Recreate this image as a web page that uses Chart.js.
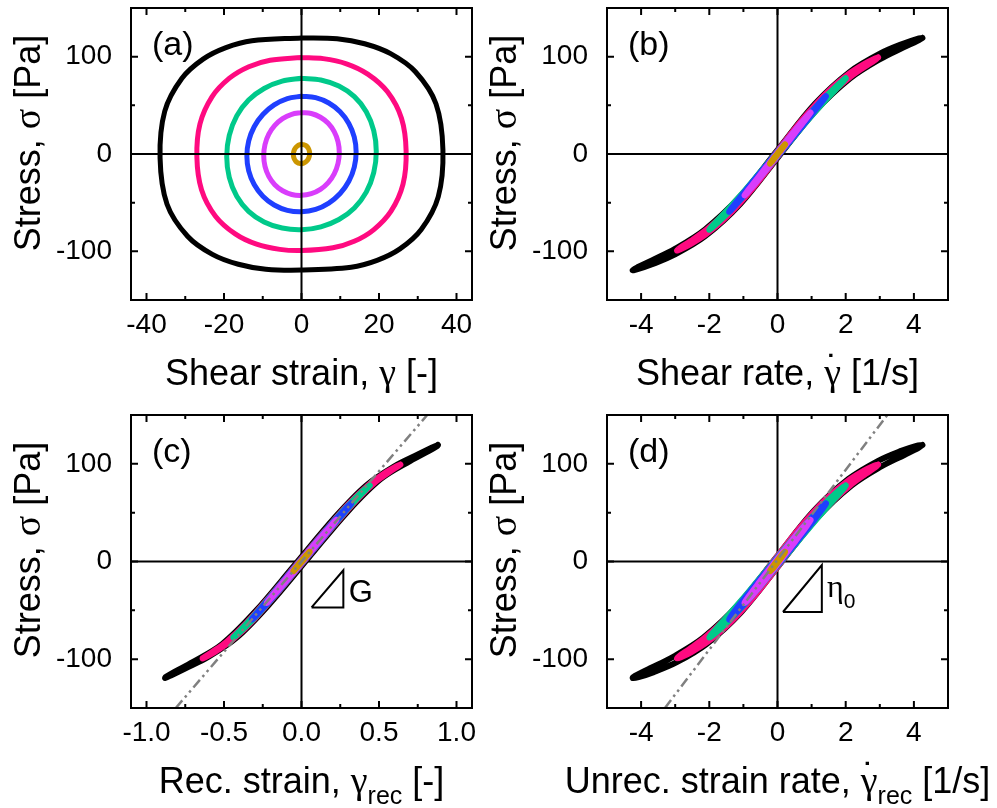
<!DOCTYPE html>
<html><head><meta charset="utf-8">
<script src="https://cdn.jsdelivr.net/npm/chart.js@4.4.0/dist/chart.umd.min.js"></script>
<style>
html,body{margin:0;padding:0;background:#fff;}
#wrap{position:relative;width:997px;height:808px;overflow:hidden;background:#fff;}
canvas{position:absolute;}
</style></head><body>
<div id="wrap">
<canvas id="pa" width="498" height="400" style="left:0;top:0"></canvas>
<canvas id="pb" width="521" height="400" style="left:476px;top:0"></canvas>
<canvas id="pc" width="498" height="408" style="left:0;top:400px"></canvas>
<canvas id="pd" width="521" height="408" style="left:476px;top:400px"></canvas>
</div>
<script>
// ---------- stress [Pa] around each loop (shared by all four panels) ----------
const stressBlack  = [119.3,118.4,113.3,103.1,84.5,51.6,4.0,-43.8,-77.6,-97.5,-109.3,-116.4,-119.3,-118.4,-113.3,-103.1,-84.5,-51.6,-4.0,43.8,77.6,97.5,109.3,116.4,119.3];
const stressPink   = [99.2,98.0,92.7,82.1,63.9,36.7,3.0,-30.9,-58.7,-77.9,-89.7,-96.4,-99.2,-98.0,-92.7,-82.1,-63.9,-36.7,-3.0,30.9,58.7,77.9,89.7,96.4,99.2];
const stressGreen  = [77.8,76.1,69.8,58.9,43.5,24.0,2.5,-19.2,-39.2,-55.4,-67.3,-74.8,-77.8,-76.1,-69.8,-58.9,-43.5,-24.0,-2.5,19.2,39.2,55.4,67.3,74.8,77.8];
const stressBlue   = [59.4,57.9,52.4,43.4,31.4,17.3,2.0,-13.4,-28.0,-40.6,-50.4,-56.9,-59.4,-57.9,-52.4,-43.4,-31.4,-17.3,-2.0,13.4,28.0,40.6,50.4,56.9,59.4];
const stressViolet = [42.5,41.6,37.8,31.6,23.0,12.7,1.5,-9.8,-20.4,-29.4,-36.4,-40.8,-42.5,-41.6,-37.8,-31.6,-23.0,-12.7,-1.5,9.8,20.4,29.4,36.4,40.8,42.5];
const stressGold   = [9.9,9.7,8.8,7.4,5.4,3.0,0.5,-2.1,-4.5,-6.7,-8.3,-9.4,-9.9,-9.7,-8.8,-7.4,-5.4,-3.0,-0.5,2.1,4.5,6.7,8.3,9.4,9.9];

// ---------- (a) shear strain [-] ----------
const strainBlack  = [0,9.2,16.3,23.0,29.4,34.7,36.5,35.3,30.9,25.4,19.5,12.8,0,-9.2,-16.3,-23.0,-29.4,-34.7,-36.5,-35.3,-30.9,-25.4,-19.5,-12.8,0];
const strainPink   = [0,5.6,11.6,17.1,22.2,25.8,27.0,26.2,23.1,18.6,13.6,8.1,0,-5.6,-11.6,-17.1,-22.2,-25.8,-27.0,-26.2,-23.1,-18.6,-13.6,-8.1,0];
const strainGreen  = [0,4.99,9.65,13.65,16.71,18.64,19.3,18.64,16.71,13.65,9.65,4.99,0,-4.99,-9.65,-13.65,-16.71,-18.64,-19.3,-18.64,-16.71,-13.65,-9.65,-4.99,0];
const strainBlue   = [0,3.65,7.05,9.97,12.21,13.62,14.1,13.62,12.21,9.97,7.05,3.65,0,-3.65,-7.05,-9.97,-12.21,-13.62,-14.1,-13.62,-12.21,-9.97,-7.05,-3.65,0];
const strainViolet = [0,2.52,4.88,6.89,8.44,9.42,9.75,9.42,8.44,6.89,4.88,2.52,0,-2.52,-4.88,-6.89,-8.44,-9.42,-9.75,-9.42,-8.44,-6.89,-4.88,-2.52,0];
const strainGold   = [0,0.54,1.05,1.48,1.82,2.03,2.1,2.03,1.82,1.48,1.05,0.54,0,-0.54,-1.05,-1.48,-1.82,-2.03,-2.1,-2.03,-1.82,-1.48,-1.05,-0.54,0];

// ---------- (b) shear rate [1/s] ----------
const rateBlack  = [4.25,4.105,3.681,3.005,2.125,1.100,0,-1.100,-2.125,-3.005,-3.681,-4.105,-4.25,-4.105,-3.681,-3.005,-2.125,-1.100,0,1.100,2.125,3.005,3.681,4.105,4.25];
const ratePink   = [2.95,2.849,2.555,2.086,1.475,0.763,0,-0.763,-1.475,-2.086,-2.555,-2.849,-2.95,-2.849,-2.555,-2.086,-1.475,-0.763,0,0.763,1.475,2.086,2.555,2.849,2.95];
const rateGreen  = [2.0,1.932,1.732,1.414,1.0,0.518,0,-0.518,-1.0,-1.414,-1.732,-1.932,-2.0,-1.932,-1.732,-1.414,-1.0,-0.518,0,0.518,1.0,1.414,1.732,1.932,2.0];
const rateBlue   = [1.42,1.372,1.230,1.004,0.710,0.368,0,-0.368,-0.710,-1.004,-1.230,-1.372,-1.42,-1.372,-1.230,-1.004,-0.710,-0.368,0,0.368,0.710,1.004,1.230,1.372,1.42];
const rateViolet = [0.97,0.937,0.840,0.686,0.485,0.251,0,-0.251,-0.485,-0.686,-0.840,-0.937,-0.97,-0.937,-0.840,-0.686,-0.485,-0.251,0,0.251,0.485,0.686,0.840,0.937,0.97];
const rateGold   = [0.22,0.213,0.191,0.156,0.110,0.057,0,-0.057,-0.110,-0.156,-0.191,-0.213,-0.22,-0.213,-0.191,-0.156,-0.110,-0.057,0,0.057,0.110,0.156,0.191,0.213,0.22];

// ---------- (c) recoverable strain [-] ----------
const recBlack  = [0.880,0.876,0.822,0.702,0.511,0.300,0.046,-0.208,-0.416,-0.600,-0.748,-0.840,-0.880,-0.876,-0.822,-0.702,-0.511,-0.300,-0.046,0.208,0.416,0.600,0.748,0.840,0.880];
const recPink   = [0.638,0.628,0.575,0.482,0.361,0.209,0.031,-0.149,-0.303,-0.429,-0.530,-0.601,-0.638,-0.628,-0.575,-0.482,-0.361,-0.209,-0.031,0.149,0.303,0.429,0.530,0.601,0.638];
const recGreen  = [0.440,0.430,0.390,0.326,0.241,0.138,0.025,-0.089,-0.197,-0.289,-0.363,-0.414,-0.440,-0.430,-0.390,-0.326,-0.241,-0.138,-0.025,0.089,0.197,0.289,0.363,0.414,0.440];
const recBlue   = [0.320,0.315,0.285,0.237,0.174,0.102,0.021,-0.061,-0.139,-0.207,-0.264,-0.302,-0.320,-0.315,-0.285,-0.237,-0.174,-0.102,-0.021,0.061,0.139,0.207,0.264,0.302,0.320];
const recViolet = [0.224,0.221,0.203,0.172,0.128,0.074,0.016,-0.043,-0.100,-0.149,-0.188,-0.213,-0.224,-0.221,-0.203,-0.172,-0.128,-0.074,-0.016,0.043,0.100,0.149,0.188,0.213,0.224];
const recGold   = [0.052,0.052,0.048,0.042,0.032,0.020,0.007,-0.007,-0.021,-0.032,-0.042,-0.048,-0.052,-0.052,-0.048,-0.042,-0.032,-0.020,-0.007,0.007,0.021,0.032,0.042,0.048,0.052];

// ---------- (d) unrecoverable strain rate [1/s] ----------
const urBlack  = [4.25,4.075,3.631,2.955,2.085,1.060,-0.040,-1.140,-2.165,-3.055,-3.731,-4.135,-4.25,-4.075,-3.631,-2.955,-2.085,-1.060,0.040,1.140,2.165,3.055,3.731,4.135,4.25];
const urPink   = [2.95,2.833,2.525,2.044,1.423,0.705,-0.060,-0.821,-1.527,-2.128,-2.585,-2.865,-2.95,-2.833,-2.525,-2.044,-1.423,-0.705,0.060,0.821,1.527,2.128,2.585,2.865,2.95];
const urGreen  = [2.0,1.919,1.707,1.379,0.957,0.470,-0.050,-0.566,-1.043,-1.449,-1.757,-1.945,-2.0,-1.919,-1.707,-1.379,-0.957,-0.470,0.050,0.566,1.043,1.449,1.757,1.945,2.0];
const urBlue   = [1.42,1.362,1.210,0.976,0.675,0.329,-0.040,-0.407,-0.745,-1.032,-1.250,-1.382,-1.42,-1.362,-1.210,-0.976,-0.675,-0.329,0.040,0.407,0.745,1.032,1.250,1.382,1.42];
const urViolet = [0.97,0.928,0.823,0.661,0.455,0.217,-0.035,-0.285,-0.515,-0.711,-0.858,-0.946,-0.97,-0.928,-0.823,-0.661,-0.455,-0.217,0.035,0.285,0.515,0.711,0.858,0.946,0.97];
const urGold   = [0.22,0.209,0.183,0.145,0.097,0.042,-0.015,-0.071,-0.123,-0.166,-0.198,-0.216,-0.22,-0.209,-0.183,-0.145,-0.097,-0.042,0.015,0.071,0.123,0.166,0.198,0.216,0.22];

// ---------- linear references (G and eta0) ----------
const fitCX = [-0.811, 0.811], fitCY = [-150, 150];
const fitDX = [-3.30, 3.22],   fitDY = [-150, 150];
const triCX = [0.065, 0.27, 0.27, 0.065], triCY = [-47, -47, -9, -47];
const triDX = [0.16, 1.30, 1.30, 0.16],   triDY = [-51.7, -51.7, -3.6, -51.7];

// ---------- ticks ----------
const yMajor = [-100, 0, 100], yMinor = [-50, 50];
const xMajorA = [-40, -20, 0, 20, 40], xMinorA = [-30, -10, 10, 30];
const xMajorB = [-4, -2, 0, 2, 4],     xMinorB = [-3, -1, 1, 3];
const xMajorC = [-1, -0.5, 0, 0.5, 1], xMinorC = [-0.75, -0.25, 0.25, 0.75];
const xLabelsC = ['-1.0', '-0.5', '0.0', '0.5', '1.0'];

const FAM = "'Liberation Sans', Arial, Helvetica, sans-serif";
const GRK = "'Liberation Serif', 'Times New Roman', serif";
const loops = [
  {c:'#CC9600', y:stressGold,   a:strainGold,   b:rateGold,   r:recGold,   u:urGold},
  {c:'#D93DFB', y:stressViolet, a:strainViolet, b:rateViolet, r:recViolet, u:urViolet},
  {c:'#1F3FFF', y:stressBlue,   a:strainBlue,   b:rateBlue,   r:recBlue,   u:urBlue},
  {c:'#00C98A', y:stressGreen,  a:strainGreen,  b:rateGreen,  r:recGreen,  u:urGreen},
  {c:'#FF0A80', y:stressPink,   a:strainPink,   b:ratePink,   r:recPink,   u:urPink},
  {c:'#000000', y:stressBlack,  a:strainBlack,  b:rateBlack,  r:recBlack,  u:urBlack}
];
const pts = (xs, ys) => xs.map((x, i) => ({x, y: ys[i]}));

function drawRuns(ctx, runs, x0, base, align) {
  let total = 0;
  const fontOf = r => r.size + 'px ' + (r.g ? GRK : FAM);
  const ws = runs.map(r => { ctx.font = fontOf(r); const w = ctx.measureText(r.t).width; total += w; return w; });
  let x = align === 'left' ? x0 : x0 - total / 2;
  ctx.fillStyle = '#000'; ctx.textBaseline = 'alphabetic';
  runs.forEach((r, i) => {
    ctx.font = fontOf(r); ctx.textAlign = 'left';
    ctx.fillText(r.t, x, base + (r.dy || 0));
    if (r.dot !== undefined) { ctx.font = r.size + 'px ' + FAM; ctx.textAlign = 'center'; ctx.fillText('\u02D9', x + ws[i] / 2, base + r.dot); }
    x += ws[i];
  });
}

function zeroLines(chart) {
  const {ctx, chartArea: A, scales: {x, y}} = chart;
  ctx.save(); ctx.strokeStyle = '#000'; ctx.lineWidth = 2; ctx.beginPath();
  const x0 = x.getPixelForValue(0), y0 = y.getPixelForValue(0);
  ctx.moveTo(x0, A.top); ctx.lineTo(x0, A.bottom);
  ctx.moveTo(A.left, y0); ctx.lineTo(A.right, y0);
  ctx.stroke(); ctx.restore();
}

const decor = {
  id: 'decor',
  beforeDatasetsDraw(chart, args, o) { if (!o.axesOnTop) zeroLines(chart); },
  afterDatasetsDraw(chart, args, o) {
    if (o.axesOnTop) zeroLines(chart);
    const {ctx, chartArea: A, scales: {x, y}} = chart;
    ctx.save(); ctx.strokeStyle = '#000'; ctx.lineWidth = 2;
    ctx.strokeRect(A.left, A.top, A.right - A.left, A.bottom - A.top);
    ctx.beginPath();
    const tx = (vals, len) => vals.forEach(v => { const p = x.getPixelForValue(v);
      ctx.moveTo(p, A.bottom); ctx.lineTo(p, A.bottom - len); ctx.moveTo(p, A.top); ctx.lineTo(p, A.top + len); });
    const ty = (vals, len) => vals.forEach(v => { const p = y.getPixelForValue(v);
      ctx.moveTo(A.left, p); ctx.lineTo(A.left + len, p); ctx.moveTo(A.right, p); ctx.lineTo(A.right - len, p); });
    tx(o.xMajor, 7); tx(o.xMinor, 4); ty(yMajor, 7); ty(yMinor, 4);
    ctx.stroke();
    ctx.font = '34px ' + FAM; ctx.fillStyle = '#000'; ctx.textAlign = 'left'; ctx.textBaseline = 'alphabetic';
    ctx.fillText(o.tag, A.left + 21, A.top + 47);
    (o.notes || []).forEach(n => drawRuns(ctx, n.runs, x.getPixelForValue(n.x), y.getPixelForValue(n.y), 'left'));
    ctx.restore();
  },
  afterDraw(chart, args, o) {
    const {ctx, chartArea: A} = chart;
    ctx.save();
    drawRuns(ctx, o.xTitle, (A.left + A.right) / 2, A.bottom + 85, 'center');
    ctx.translate(40, A.top + 135); ctx.rotate(-Math.PI / 2);
    drawRuns(ctx, [{t: 'Stress, ', size: 36}, {t: '\u03C3', size: 38, g: true}, {t: ' [Pa]', size: 36}], 0, 0, 'center');
    ctx.restore();
  }
};

function makeChart(id, key, cfg) {
  const ds = [];
  if (cfg.fit) ds.push({data: pts(cfg.fit[0], cfg.fit[1]), borderColor: '#808080', borderWidth: 2.5,
    borderDash: [10, 4, 2.5, 4, 2.5, 4], tension: 0, showLine: true, pointRadius: 0});
  if (cfg.tri) ds.push({data: pts(cfg.tri[0], cfg.tri[1]), borderColor: '#000', borderWidth: 2,
    borderJoinStyle: 'miter', tension: 0, showLine: true, pointRadius: 0});
  loops.forEach(l => ds.push({data: pts(l[key], l.y), borderColor: l.c, borderWidth: cfg.lw, tension: 0.34,
    showLine: true, pointRadius: 0, borderCapStyle: 'round', borderJoinStyle: 'round'}));
  const tickFont = {size: 28, family: FAM};
  new Chart(document.getElementById(id), {
    type: 'scatter',
    data: {datasets: ds},
    options: {
      responsive: false, animation: false, devicePixelRatio: 1, events: [],
      layout: {padding: {top: cfg.top, right: cfg.right, left: 0, bottom: 0}},
      plugins: {legend: {display: false}, tooltip: {enabled: false},
        decor: {tag: cfg.tag, xMajor: cfg.xMajor, xMinor: cfg.xMinor, xTitle: cfg.xTitle,
                axesOnTop: cfg.axesOnTop, notes: cfg.notes}},
      scales: {
        x: {type: 'linear', min: cfg.xmin, max: cfg.xmax,
            grid: {display: false}, border: {display: false},
            afterBuildTicks: s => { s.ticks = cfg.xMajor.map(v => ({value: v})); },
            afterFit: s => { s.height = 100; s.paddingLeft = 0; s.paddingRight = 0; },
            ticks: {font: tickFont, color: '#000', padding: 0, maxRotation: 0, autoSkip: false,
                    callback: (v, i) => cfg.xLabels ? cfg.xLabels[i] : String(v)}},
        y: {type: 'linear', min: -150, max: 150,
            grid: {display: false}, border: {display: false},
            afterBuildTicks: s => { s.ticks = yMajor.map(v => ({value: v})); },
            afterFit: s => { s.width = 131; s.paddingTop = 0; s.paddingBottom = 0; },
            ticks: {font: tickFont, color: '#000', padding: 11, autoSkip: false, callback: v => String(v)}}
      }
    },
    plugins: [decor]
  });
}

const T = 36, S = 25;
makeChart('pa', 'a', {tag: '(a)', xmin: -44, xmax: 44, xMajor: xMajorA, xMinor: xMinorA, top: 8, right: 26, axesOnTop: true, lw: 5,
  xTitle: [{t: 'Shear strain, ', size: T}, {t: '\u03B3', size: 38, g: true}, {t: ' [-]', size: T}]});
makeChart('pb', 'b', {tag: '(b)', xmin: -5, xmax: 5, xMajor: xMajorB, xMinor: xMinorB, top: 8, right: 49, lw: 6,
  xTitle: [{t: 'Shear rate, ', size: T}, {t: '\u03B3', size: 38, g: true, dot: -3}, {t: ' [1/s]', size: T}]});
makeChart('pc', 'r', {tag: '(c)', xmin: -1.1, xmax: 1.1, xMajor: xMajorC, xMinor: xMinorC, xLabels: xLabelsC, top: 15, right: 26, lw: 6,
  fit: [fitCX, fitCY], tri: [triCX, triCY],
  notes: [{x: 0.305, y: -41.5, runs: [{t: 'G', size: 31}]}],
  xTitle: [{t: 'Rec. strain, ', size: T}, {t: '\u03B3', size: 38, g: true}, {t: 'rec', size: S, dy: 11}, {t: ' [-]', size: T}]});
makeChart('pd', 'u', {tag: '(d)', xmin: -5, xmax: 5, xMajor: xMajorB, xMinor: xMinorB, top: 15, right: 49, lw: 6,
  fit: [fitDX, fitDY], tri: [triDX, triDY],
  notes: [{x: 1.45, y: -36.3, runs: [{t: '\u03B7', size: 32, g: true}, {t: '0', size: 21, dy: 11}]}],
  xTitle: [{t: 'Unrec. strain rate, ', size: T}, {t: '\u03B3', size: 38, g: true, dot: -3}, {t: 'rec', size: S, dy: 11}, {t: ' [1/s]', size: T}]});
</script>
</body></html>
